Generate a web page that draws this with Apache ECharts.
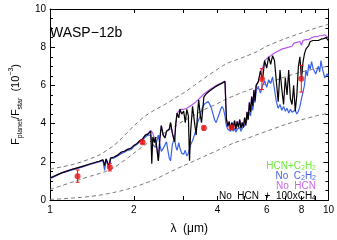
<!DOCTYPE html>
<html><head><meta charset="utf-8">
<script src="https://cdn.jsdelivr.net/npm/echarts@6/dist/echarts.min.js"></script>
<style>html,body{margin:0;padding:0;background:#fff}#c{width:337px;height:240px}</style>
</head><body><div id="c"></div>
<script>
// wavelength grid (micron)
const wavelength = [
 1.0,1.1,1.2,1.3,1.4,1.5,1.55,1.57,1.59,1.61,1.63,1.65,1.7,1.75,1.8,1.85,1.9,1.95,2.0,2.05,2.1,2.15,2.2,
 2.25,2.28,2.3,2.32,2.34,2.37,2.39,2.42,2.45,2.48,2.51,2.55,2.59,2.62,2.65,2.68,2.71,2.75,2.8,2.83,2.86,2.9,2.93,2.97,3.02,3.06,3.1,3.14,3.17,3.2,3.25,3.3,3.35,3.39,3.42,3.46,3.5,3.54,3.57,
 3.6,3.65,3.7,3.75,3.8,3.85,3.9,3.95,4.0,4.05,4.1,4.15,4.2,4.25,4.28,
 4.3,4.35,4.4,4.45,4.5,4.55,4.6,4.65,4.7,4.75,4.8,4.85,4.9,4.95,5.0,5.05,5.1,5.15,5.2,5.25,5.3,5.35,5.4,5.45,
 5.5,5.6,5.7,5.8,5.9,6.0,6.1,6.2,6.3,6.4,6.5,6.6,6.7,6.8,6.9,7.0,7.1,7.2,7.3,7.4,7.5,7.6,7.7,7.8,7.9,8.0,8.1,8.2,8.3,8.4,8.5,8.6,8.7,8.8,8.9,9.0,9.1,9.2,9.3,9.4,9.5,9.6,9.7,9.8,9.9,10.0
];
// No HCN + 100xCH4 (black)
const noHcnCh4 = [
 1.15,1.42,1.6,1.75,1.9,2.03,2.1,1.8,2.15,1.95,1.8,2.2,2.25,2.35,2.5,2.55,2.65,2.7,2.85,2.95,3.1,3.2,3.4,
 3.45,3.55,3.6,1.9,3.3,3.0,3.3,2.7,2.05,3.2,3.9,3.4,3.25,3.6,3.55,3.7,4.05,3.5,3.05,4.0,4.55,4.3,4.75,4.5,4.65,4.05,4.75,4.4,2.05,3.6,4.9,4.1,3.4,4.6,5.25,4.5,4.05,4.8,5.4,
 5.5,5.58,5.65,5.72,5.78,5.84,5.9,5.95,6.0,6.04,6.08,6.12,6.16,6.2,6.22,
 4.25,3.85,4.1,3.7,4.05,3.75,4.15,3.7,4.1,3.8,4.2,3.75,4.05,3.8,4.3,3.9,4.6,4.2,5.1,4.6,5.4,4.9,5.75,5.2,
 6.0,6.2,6.75,6.3,7.3,6.9,7.5,7.1,7.55,7.3,7.2,5.15,6.8,5.8,5.0,6.4,5.5,6.8,5.3,5.0,6.0,4.65,5.5,7.0,7.5,6.3,7.2,7.65,7.9,8.0,8.1,8.3,8.3,8.35,8.3,8.35,8.4,8.35,8.4,8.42,8.45,8.45,8.5,8.5,8.4,8.35
];
// No C2H2 (blue)
const noC2h2 = [
 1.12,1.4,1.57,1.72,1.87,2.0,2.06,1.55,2.1,1.85,1.65,2.15,2.2,2.3,2.42,2.5,2.6,2.63,2.8,2.9,3.05,3.15,3.3,
 3.4,3.5,3.4,3.05,2.9,2.8,2.75,3.1,3.4,2.9,2.55,2.7,2.9,3.05,2.6,2.2,2.05,2.9,3.25,2.8,2.6,3.0,2.7,2.45,2.4,2.6,2.3,2.45,2.7,2.9,3.1,3.4,3.7,4.05,4.2,4.4,4.7,4.9,5.0,
 5.05,5.1,5.15,5.0,4.8,4.5,4.2,4.05,4.1,4.5,4.75,4.9,4.75,4.4,4.05,
 3.9,3.7,3.75,3.6,3.8,3.6,3.75,3.55,3.7,3.6,3.8,3.6,3.75,3.65,3.9,3.8,4.2,4.1,4.6,4.4,4.9,4.7,5.3,5.1,
 5.75,5.9,5.6,6.0,6.25,5.9,6.3,6.1,6.45,5.8,5.15,4.8,5.0,4.7,4.9,4.65,4.8,4.55,4.75,4.6,4.5,4.7,4.5,4.65,4.9,5.3,5.3,6.0,6.8,6.5,7.1,6.85,7.25,6.9,7.0,6.6,6.55,7.0,6.7,7.3,6.9,7.0,6.4,6.3,6.6,6.5
];
// No HCN (magenta)
const noHcn = [
 1.15,1.42,1.6,1.75,1.9,2.03,2.1,1.8,2.15,1.95,1.8,2.2,2.25,2.35,2.5,2.55,2.65,2.7,2.85,2.95,3.1,3.2,3.4,
 3.5,3.6,3.65,3.65,3.5,3.2,3.3,2.7,2.05,3.2,3.9,3.4,3.25,3.6,3.55,3.7,4.05,3.5,3.05,4.0,4.55,4.6,4.75,4.72,4.75,4.78,4.8,4.85,4.9,4.95,5.0,5.08,5.15,5.22,5.28,5.35,5.42,5.5,5.55,
 5.6,5.66,5.72,5.78,5.84,5.89,5.94,5.99,6.03,6.07,6.11,6.15,6.19,6.23,6.25,
 4.28,3.88,4.13,3.73,4.08,3.78,4.18,3.73,4.13,3.83,4.23,3.78,4.08,3.83,4.33,3.93,4.63,4.23,5.13,4.63,5.43,4.93,5.78,5.23,
 6.0,6.2,6.75,6.9,7.3,7.4,7.5,7.55,7.6,7.7,7.75,7.8,7.75,7.9,8.0,7.95,8.05,8.0,8.1,8.05,8.2,8.15,8.25,8.2,8.3,8.1,8.35,8.3,8.4,8.45,8.4,8.5,8.5,8.5,8.55,8.5,8.55,8.55,8.6,8.55,8.6,8.6,8.65,8.65,8.55,8.5
];
// reference curves (dashed)
const bbLam  = [1.0,1.1,1.2,1.3,1.4,1.5,1.6,1.7,1.8,1.9,2.0,2.2,2.4,2.6,2.8,3.0,3.3,3.6,4.0,4.2,4.4,4.6,5.0,5.5,6.0,7.0,8.0,9.0,10.0];
const bbHot  = [1.62,1.73,1.85,2.0,2.17,2.35,2.6,2.87,3.2,3.55,3.88,4.4,4.75,5.02,5.32,5.58,6.0,6.4,6.85,7.05,7.2,7.3,7.5,7.75,8.05,8.45,8.75,9.0,9.2];
const bbMid  = [0.55,0.75,0.93,1.1,1.25,1.38,1.52,1.7,1.95,2.2,2.45,2.9,3.25,3.55,3.85,4.12,4.45,4.75,5.05,5.22,5.35,5.47,5.68,5.9,6.1,6.45,6.7,6.88,7.0];
const bbCool = [0.03,0.06,0.1,0.14,0.19,0.25,0.32,0.4,0.48,0.57,0.67,0.88,1.1,1.35,1.58,1.78,2.05,2.3,2.6,2.75,2.88,3.0,3.18,3.4,3.6,3.95,4.2,4.4,4.55];
// observations
const obsLam = [1.256,1.64,2.15,3.57,4.49,5.77,7.99];
const obsVal = [1.25,1.72,3.03,3.77,3.8,6.33,6.35];
const obsErr = [0.32,0.2,0.08,0.1,0.1,0.55,0.7];
// axis ticks
const xTickLabels = [1,2,4,6,8,10];
const xTickMarks = [1,2,3,4,5,6,7,8,9,10];

const L = Math.log10;
const pair = (lam, vals) => lam.map((l, i) => [L(l), vals[i]]);
const lf = 'Liberation Sans, Arial, sans-serif';

const chart = echarts.init(document.getElementById('c'), null, {renderer: 'canvas'});
const axisFont = {color: '#000', fontSize: 10, fontFamily: lf};
const tickStyle = {color: '#000', width: 1};
function xAx(pos, showLabel) {
  return {
    type: 'value', min: 0, max: 1, position: pos,
    axisLine: {show: true, onZero: false, lineStyle: {color: '#000', width: 1}},
    axisTick: {show: true, inside: true, length: 4, customValues: xTickMarks.map(L), lineStyle: tickStyle},
    axisLabel: {show: showLabel, customValues: xTickLabels.map(L), margin: 5,
      formatter: v => String(Math.round(Math.pow(10, v))), ...axisFont},
    splitLine: {show: false}
  };
}
function yAx(pos, showLabel) {
  return {
    type: 'value', min: 0, max: 10, interval: 2, position: pos,
    axisLine: {show: true, onZero: false, lineStyle: {color: '#000', width: 1}},
    axisTick: {show: true, inside: true, length: 5, lineStyle: tickStyle},
    minorTick: {show: true, splitNumber: 4, length: 3, lineStyle: tickStyle},
    axisLabel: {show: showLabel, margin: 4, ...axisFont},
    splitLine: {show: false}
  };
}
const yA = yAx('left', true);
yA.name = '{n|F}{s|planet}{n|/F}{s|star}{n|  (10}{p|−3}{n|)}';
yA.nameLocation = 'middle';
yA.nameGap = 21;
yA.nameRotate = 90;
yA.nameTextStyle = {
  color: '#000', fontFamily: lf,
  rich: {
    n: {fontSize: 11, lineHeight: 16, color: '#000', fontFamily: lf},
    s: {fontSize: 7, lineHeight: 8, verticalAlign: 'bottom', color: '#000', fontFamily: lf},
    p: {fontSize: 7, lineHeight: 8, verticalAlign: 'top', color: '#000', fontFamily: lf}
  }
};
const xA = xAx('bottom', true);
xA.name = 'λ  (μm)';
xA.nameLocation = 'middle';
xA.nameGap = 23;
xA.nameTextStyle = {color: '#000', fontSize: 12, fontFamily: lf};

function dashed(vals) {
  return {type: 'line', data: pair(bbLam, vals), symbol: 'none', smooth: 0.3, silent: true, z: 1,
    lineStyle: {color: '#7a7a7a', width: 1, type: [4, 3]}};
}
function spec(vals, color, z) {
  return {type: 'line', data: pair(wavelength, vals), symbol: 'none', silent: true, z: z,
    lineStyle: {color: color, width: 1.2}};
}
function rich(color) {
  return {
    t: {fontSize: 10, fill: color, fontFamily: lf, lineHeight: 12},
    s: {fontSize: 7, fill: color, fontFamily: lf, lineHeight: 6, verticalAlign: 'bottom'}
  };
}
function legendText(y, text, color) {
  return {type: 'text', x: 316, y: y, z: 100,
    style: {text: text, rich: rich(color), align: 'right', verticalAlign: 'middle', fill: color}};
}

chart.setOption({
  animation: false,
  backgroundColor: '#fff',
  grid: {left: 35, right: 7, top: 9, bottom: 32, containLabel: false},
  xAxis: [xA, xAx('top', false)],
  yAxis: [yA, yAx('right', false)],
  series: [
    dashed(bbHot), dashed(bbMid), dashed(bbCool),
    spec(noC2h2, '#3a62e6', 3),
    spec(noHcn, '#b455f0', 4),
    spec(noHcnCh4, '#000000', 5),
    {
      type: 'custom', z: 6, silent: true,
      data: obsLam.map((l, i) => [L(l), obsVal[i], obsErr[i]]),
      encode: {x: 0, y: 1},
      renderItem: function (params, api) {
        const x = api.value(0), y = api.value(1), e = api.value(2);
        const t = api.coord([x, y + e]), b = api.coord([x, y - e]);
        const st = {stroke: '#ee1111', lineWidth: 1};
        return {type: 'group', children: [
          {type: 'line', shape: {x1: t[0], y1: t[1], x2: b[0], y2: b[1]}, style: st},
          {type: 'line', shape: {x1: t[0] - 2, y1: t[1], x2: t[0] + 2, y2: t[1]}, style: st},
          {type: 'line', shape: {x1: b[0] - 2, y1: b[1], x2: b[0] + 2, y2: b[1]}, style: st}
        ]};
      }
    },
    {type: 'scatter', z: 7, silent: true, data: pair(obsLam, obsVal), symbol: 'circle', symbolSize: 6,
      itemStyle: {color: '#ee1111'}}
  ],
  graphic: [
    {type: 'text', x: 50, y: 33, z: 100, style: {text: 'WASP−12b', fontSize: 14, fill: '#000', fontFamily: lf, verticalAlign: 'middle'}},
    legendText(166, '{t|HCN+C}{s|2}{t|H}{s|2}', '#6ee83c'),
    legendText(176, '{t|No  C}{s|2}{t|H}{s|2}', '#4a66ea'),
    legendText(186, '{t|No  HCN}', '#cc66ee'),
    legendText(196, '{t|No  HCN  +  100xCH}{s|4}', '#000000')
  ]
});
</script>
</body></html>
